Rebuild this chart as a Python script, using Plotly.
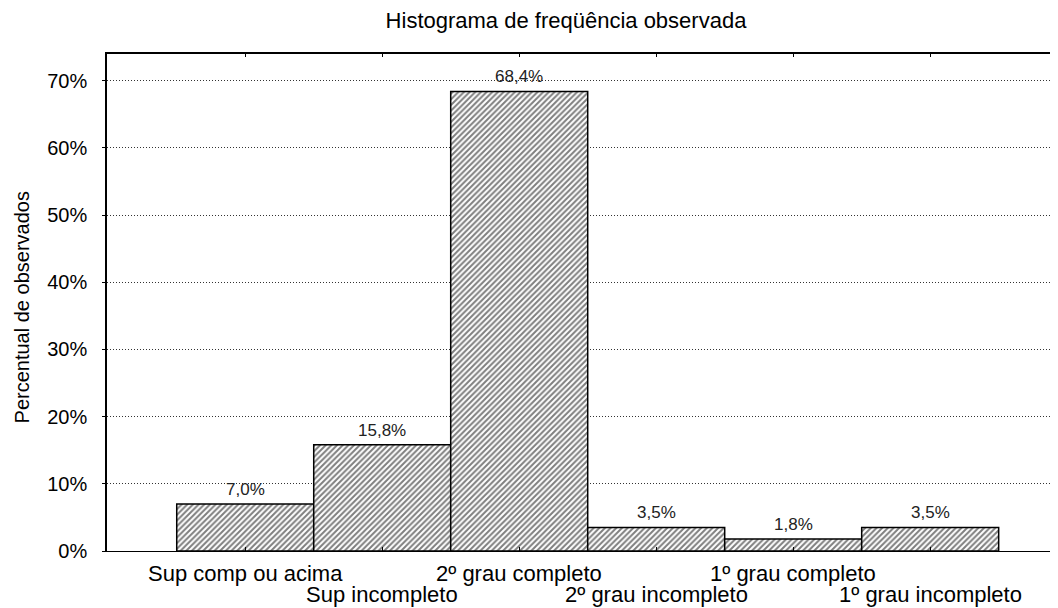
import plotly.graph_objects as go

categories = ["Sup comp ou acima", "Sup incompleto", "2º grau completo",
              "2º grau incompleto", "1º grau completo", "1º grau incompleto"]
percent = [7.0, 15.8, 68.4, 3.5, 1.8, 3.5]
bar_labels = ["7,0%", "15,8%", "68,4%", "3,5%", "1,8%", "3,5%"]
y_ticks = [0, 10, 20, 30, 40, 50, 60, 70]
y_tick_labels = ["0%", "10%", "20%", "30%", "40%", "50%", "60%", "70%"]

FONT = "Arial, Liberation Sans, sans-serif"
pos = list(range(len(categories)))

# page has an 8px body margin; figure is sized so it fills the window
W, H = 1050, 600

fig = go.Figure()
fig.add_trace(go.Bar(
    x=pos, y=percent, width=1.0,
    marker=dict(color="white",
                line=dict(color="black", width=1.5),
                pattern=dict(shape="/", fgcolor="black", bgcolor="white",
                             size=4, solidity=0.5)),
    showlegend=False, hoverinfo="skip",
))

annotations = []
for i, (v, t) in enumerate(zip(percent, bar_labels)):
    annotations.append(dict(x=i, y=v, xref="x", yref="y", text=t, showarrow=False,
                            yanchor="bottom", yshift=3,
                            font=dict(family=FONT, size=17, color="#222")))
for i, c in enumerate(categories):
    annotations.append(dict(x=i, y=0, xref="x", yref="paper", text=c, showarrow=False,
                            yanchor="middle", yshift=-22 if i % 2 == 0 else -43,
                            font=dict(family=FONT, size=22, color="black")))
annotations.append(dict(x=-0.0894, y=0.489, xref="paper", yref="paper",
                        text="Percentual de observados", textangle=-90, showarrow=False,
                        xanchor="center", yanchor="middle",
                        font=dict(family=FONT, size=20, color="black")))

fig.update_layout(
    width=W, height=H,
    margin=dict(l=99, r=0, t=45, b=57),
    paper_bgcolor="white", plot_bgcolor="white",
    title=dict(text="Histograma de freqüência observada", x=558/W, xanchor="center",
               y=1-12/H, yanchor="middle", font=dict(family=FONT, size=22, color="black")),
    annotations=annotations,
    xaxis=dict(range=[-1.009, 5.933], tickvals=pos, showticklabels=False,
               ticks="inside", ticklen=4, tickcolor="black", mirror="ticks",
               showline=True, linecolor="black", linewidth=1.2,
               showgrid=False, zeroline=False),
    yaxis=dict(range=[0, 74.12], tickvals=y_ticks, ticktext=y_tick_labels,
               ticks="outside", ticklen=3, tickcolor="black",
               ticklabelstandoff=11,
               tickfont=dict(family=FONT, size=20, color="black"),
               showline=True, linecolor="black", linewidth=1.5,
               showgrid=True, gridcolor="#333", griddash="1px,2px", gridwidth=1,
               zeroline=False),
)
fig.add_shape(type="line", xref="paper", yref="paper", x0=0, x1=1, y0=1, y1=1,
              line=dict(color="black", width=2))

fig.write_html("out.html")
